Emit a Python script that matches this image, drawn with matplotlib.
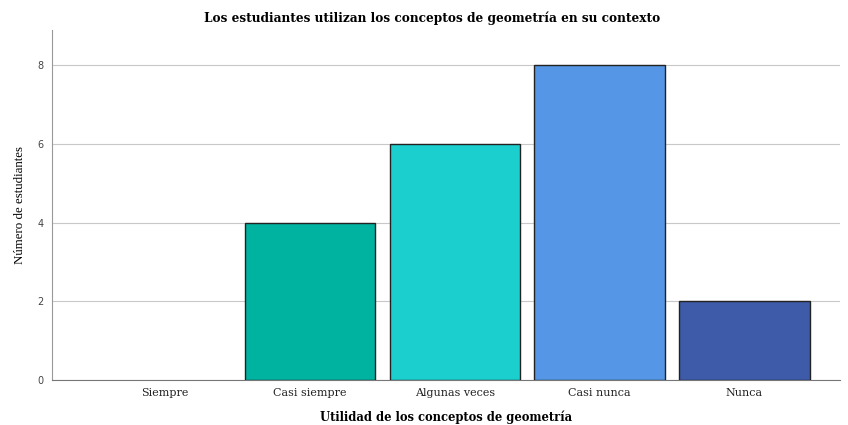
import matplotlib
matplotlib.use("Agg")
import matplotlib.pyplot as plt

categories = ["Siempre", "Casi siempre", "Algunas veces", "Casi nunca", "Nunca"]
counts = [0, 4, 6, 8, 2]
colors = ["#ffffff", "#00b3a0", "#1ccfcf", "#5597e6", "#3e5ba9"]
yticks = [0, 2, 4, 6, 8]

fig = plt.figure(figsize=(8.48, 4.25), dpi=100)
ax = fig.add_axes([0.0613, 0.1059, 0.9293, 0.8235])

x = range(len(categories))
edge_widths = [1 if c > 0 else 0 for c in counts]
ax.bar(x, counts, width=0.9, color=colors, edgecolor="#222222", linewidth=edge_widths, zorder=3)

ax.set_xlim(-0.78, 4.66)
ax.set_ylim(0, 8.9)
ax.set_yticks(yticks)
ax.set_yticklabels([str(v) for v in yticks], fontsize=7, family="DejaVu Sans", color="#444444")
ax.set_xticks(list(x))
ax.set_xticklabels(categories, fontsize=8, family="DejaVu Serif", color="#222222")
ax.tick_params(length=0)
ax.tick_params(axis="y", pad=6)
ax.tick_params(axis="x", pad=6)

ax.grid(axis="y", color="#c8c8c8", linewidth=0.8, zorder=0)
for s in ["top", "right"]:
    ax.spines[s].set_visible(False)
ax.spines["left"].set_color("#999999")
ax.spines["bottom"].set_color("#777777")

# title sits a bit left of the axes centre in the original
ax.set_title("Los estudiantes utilizan los conceptos de geometría en su contexto",
             fontsize=8.7, family="DejaVu Serif", fontweight="bold", pad=6, x=0.482)
ax.set_xlabel("Utilidad de los conceptos de geometría", fontsize=8.3,
              family="DejaVu Serif", fontweight="bold", labelpad=9)
ax.set_ylabel("Número de estudiantes", fontsize=9.3, family="Liberation Serif", labelpad=8)

fig.savefig("out.png", dpi=100)
